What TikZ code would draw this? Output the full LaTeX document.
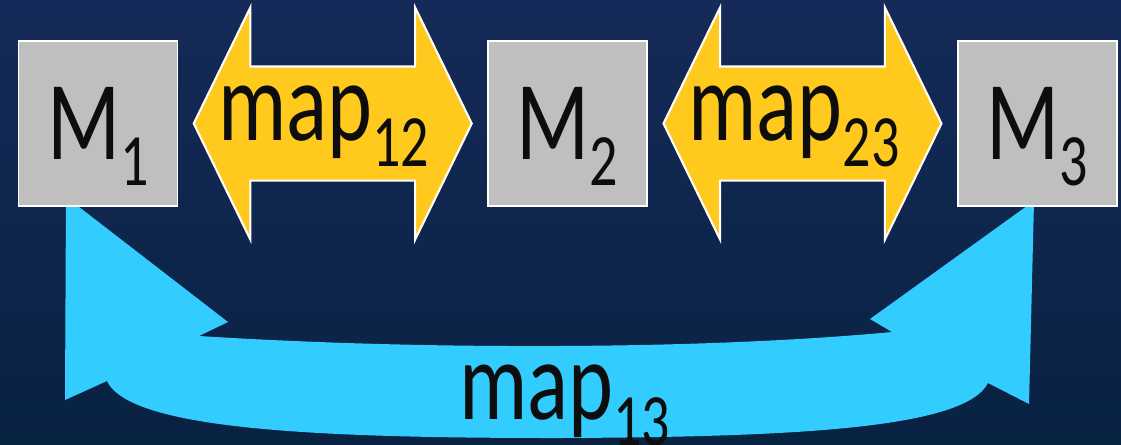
\documentclass[tikz,border=0pt]{standalone}
\usepackage{fontspec}
\setmainfont{Carlito}[FakeStretch=0.76]
\usepackage{tikz}
\usetikzlibrary{positioning, calc, shapes.arrows, backgrounds}
\definecolor{navytop}{RGB}{21,42,88}
\definecolor{navybot}{RGB}{8,34,66}
\definecolor{boxgray}{RGB}{191,191,191}
\definecolor{maize}{RGB}{255,201,30}
\definecolor{skycyan}{RGB}{51,204,255}
\definecolor{inkblk}{RGB}{13,13,13}
\newcommand{\Mlbl}[2]{#1\raisebox{-0.26cm}[0pt][0pt]{\fontsize{21}{24}\selectfont #2}}

\begin{document}
\begin{tikzpicture}[
  big/.style={font=\fontsize{32}{36}\selectfont, text=inkblk},
  mbox/.style={big, draw=white, line width=0.5pt, fill=boxgray, minimum width=1.59cm, minimum height=1.65cm, inner sep=0pt},
  dblarr/.style={double arrow, draw=white, line width=0.6pt, fill=maize, minimum height=2.78cm, inner xsep=0pt, inner ysep=0.56cm, double arrow head extend=0.59cm, double arrow tip angle=128},
  maplbl/.style={big, anchor=base, inner sep=0pt}]
\useasboundingbox (0,0) rectangle (11.21,-4.44);
\node[mbox] (m1) at (0.98,-1.235) {\Mlbl{M}{1}};
\node[mbox] (m2) at (5.675,-1.235) {\Mlbl{M}{2}};
\node[mbox] (m3) at (10.375,-1.235) {\Mlbl{M}{3}};
\node[dblarr] (a12) at ($(m1.east)!0.5!(m2.west)$) {};
\node[dblarr] (a23) at ($(m2.east)!0.5!(m3.west)$) {};
\node[maplbl] (t12) at ($(a12.center)+(-0.09,-0.17)$) {\Mlbl{map}{12}};
\node[maplbl] (t23) at ($(a23.center)+(-0.085,-0.17)$) {\Mlbl{map}{23}};
\node[maplbl] (t13) at (5.645,-4.19) {\Mlbl{map}{13}};
\begin{scope}[on background layer]
\shade[top color=navytop, bottom color=navybot] (0,0) rectangle (11.21,-4.44);
% curved link M1 <-> M3
\fill[skycyan] ($(m1.south)+(-0.32,0.10)$) -- (2.28,-3.22) -- (1.99,-3.36)
  .. controls (4.20,-3.50) and (7.00,-3.50) .. (8.92,-3.32) -- (8.70,-3.19)
  -- ($(m3.south)+(-0.035,0.06)$) -- (10.29,-4.04) -- (9.88,-3.83)
  .. controls (9.65,-4.28) and (8.00,-4.37) .. (5.60,-4.38)
  .. controls (3.20,-4.38) and (1.30,-4.30) .. (1.07,-3.81) -- (0.65,-4.00) -- cycle;
\end{scope}
\end{tikzpicture}
\end{document}
